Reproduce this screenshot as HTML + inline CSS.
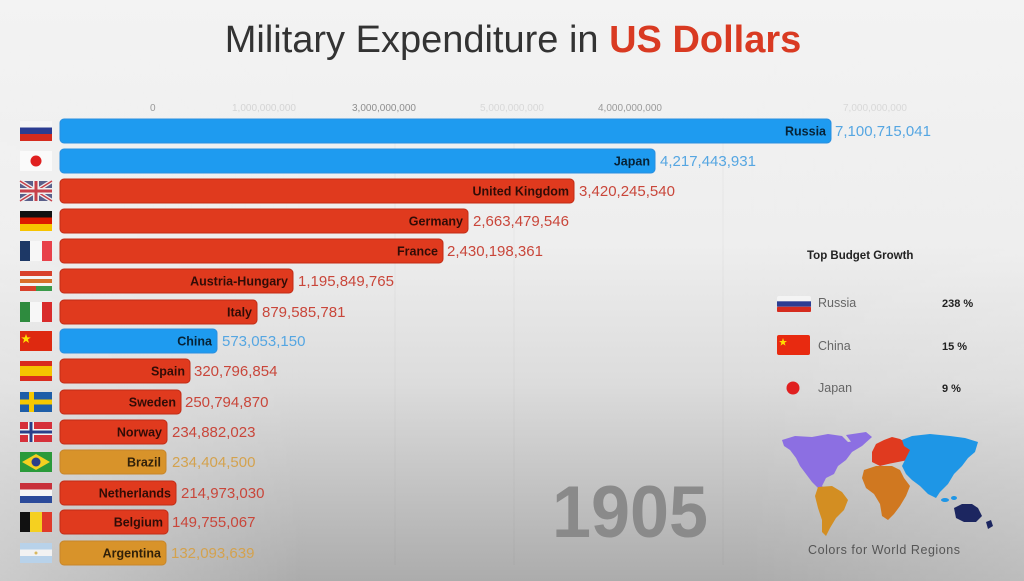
<!DOCTYPE html>
<html>
<head>
<meta charset="utf-8">
<style>
html,body{margin:0;padding:0;width:1024px;height:581px;overflow:hidden;background:#eee;}
svg{display:block;}
text{font-family:"Liberation Sans",sans-serif;}
</style>
</head>
<body>
<svg width="1024" height="581" viewBox="0 0 1024 581" xmlns="http://www.w3.org/2000/svg">
<defs>
<linearGradient id="bgv" x1="0" y1="0" x2="0" y2="1">
<stop offset="0" stop-color="#f3f3f3"/>
<stop offset="0.42" stop-color="#eeeeee"/>
<stop offset="0.66" stop-color="#dcdcdc"/>
<stop offset="1" stop-color="#acacac"/>
</linearGradient>
<linearGradient id="bgh" x1="0" y1="0" x2="1" y2="0">
<stop offset="0" stop-color="#fff" stop-opacity="0.38"/>
<stop offset="0.3" stop-color="#fff" stop-opacity="0"/>
<stop offset="0.72" stop-color="#fff" stop-opacity="0"/>
<stop offset="1" stop-color="#fff" stop-opacity="0.2"/>
</linearGradient>
<linearGradient id="mfade" x1="0" y1="0" x2="0" y2="1">
<stop offset="0" stop-color="#fff" stop-opacity="0"/>
<stop offset="0.45" stop-color="#fff" stop-opacity="0.3"/>
<stop offset="1" stop-color="#fff" stop-opacity="1"/>
</linearGradient>
<mask id="m1" maskUnits="userSpaceOnUse" x="0" y="0" width="1024" height="581">
<rect width="1024" height="581" fill="url(#mfade)"/>
</mask>
</defs>
<rect width="1024" height="581" fill="url(#bgv)"/>
<rect width="1024" height="581" fill="url(#bgh)" mask="url(#m1)"/>

<!-- faint grid -->
<g stroke="#000" stroke-opacity="0.035" stroke-width="1">
<line x1="395" y1="118" x2="395" y2="565"/>
<line x1="514" y1="118" x2="514" y2="565"/>
<line x1="723" y1="118" x2="723" y2="565"/>
</g>

<!-- Title -->
<text x="513" y="52" font-size="38" text-anchor="middle" fill="#333"><tspan>Military Expenditure in </tspan><tspan fill="#d93a22" font-weight="bold">US Dollars</tspan></text>

<!-- axis ticks -->
<g font-size="10" fill="#999">
<text x="150" y="111">0</text>
<text x="232" y="111" fill="#d4d4d4">1,000,000,000</text>
<text x="352" y="111" fill="#8e8e8e">3,000,000,000</text>
<text x="480" y="111" fill="#d8d8d8">5,000,000,000</text>
<text x="598" y="111" fill="#9a9a9a">4,000,000,000</text>
<text x="843" y="111" fill="#d8d8d8">7,000,000,000</text>
</g>

<!-- Bars -->
<g>
<rect x="60" y="119" width="771" height="24" rx="4" fill="#1e9bf0" stroke="#2a8fe0" stroke-width="1"/>
<rect x="60" y="149" width="595" height="24" rx="4" fill="#1e9bf0" stroke="#2a8fe0" stroke-width="1"/>
<rect x="60" y="179" width="514" height="24" rx="4" fill="#e03a1e" stroke="#c22c16" stroke-width="1"/>
<rect x="60" y="209" width="408" height="24" rx="4" fill="#e03a1e" stroke="#c22c16" stroke-width="1"/>
<rect x="60" y="239" width="383" height="24" rx="4" fill="#e03a1e" stroke="#c22c16" stroke-width="1"/>
<rect x="60" y="269" width="233" height="24" rx="4" fill="#e03a1e" stroke="#c22c16" stroke-width="1"/>
<rect x="60" y="300" width="197" height="24" rx="4" fill="#e03a1e" stroke="#c22c16" stroke-width="1"/>
<rect x="60" y="329" width="157" height="24" rx="4" fill="#1e9bf0" stroke="#2a8fe0" stroke-width="1"/>
<rect x="60" y="359" width="130" height="24" rx="4" fill="#e03a1e" stroke="#c22c16" stroke-width="1"/>
<rect x="60" y="390" width="121" height="24" rx="4" fill="#e03a1e" stroke="#c22c16" stroke-width="1"/>
<rect x="60" y="420" width="107" height="24" rx="4" fill="#e03a1e" stroke="#c22c16" stroke-width="1"/>
<rect x="60" y="450" width="106" height="24" rx="4" fill="#d8932a" stroke="#c8862a" stroke-width="1"/>
<rect x="60" y="481" width="116" height="24" rx="4" fill="#e03a1e" stroke="#c22c16" stroke-width="1"/>
<rect x="60" y="510" width="108" height="24" rx="4" fill="#e03a1e" stroke="#c22c16" stroke-width="1"/>
<rect x="60" y="541" width="106" height="24" rx="4" fill="#d8932a" stroke="#c8862a" stroke-width="1"/>
</g>

<!-- labels inside bars -->
<g font-size="12.5" font-weight="bold" fill="#000" fill-opacity="0.78" text-anchor="end">
<text x="826" y="135.5">Russia</text>
<text x="650" y="165.5">Japan</text>
<text x="569" y="195.5">United Kingdom</text>
<text x="463" y="225.5">Germany</text>
<text x="438" y="255.5">France</text>
<text x="288" y="285.5">Austria-Hungary</text>
<text x="252" y="316.5">Italy</text>
<text x="212" y="345.5">China</text>
<text x="185" y="375.5">Spain</text>
<text x="176" y="406.5">Sweden</text>
<text x="162" y="436.5">Norway</text>
<text x="161" y="466.5">Brazil</text>
<text x="171" y="497.5">Netherlands</text>
<text x="163" y="526.5">Belgium</text>
<text x="161" y="557.5">Argentina</text>
</g>

<!-- values -->
<g font-size="15">
<text x="835" y="136" fill="#55a6e2">7,100,715,041</text>
<text x="660" y="166" fill="#55a6e2">4,217,443,931</text>
<text x="579" y="196" fill="#c9463a">3,420,245,540</text>
<text x="473" y="226" fill="#c9463a">2,663,479,546</text>
<text x="447" y="256" fill="#c9463a">2,430,198,361</text>
<text x="298" y="286" fill="#c9463a">1,195,849,765</text>
<text x="262" y="317" fill="#c9463a">879,585,781</text>
<text x="222" y="346" fill="#55a6e2">573,053,150</text>
<text x="194" y="376" fill="#c9463a">320,796,854</text>
<text x="185" y="407" fill="#c9463a">250,794,870</text>
<text x="172" y="437" fill="#c9463a">234,882,023</text>
<text x="172" y="467" fill="#d4a24e">234,404,500</text>
<text x="181" y="498" fill="#c9463a">214,973,030</text>
<text x="172" y="527" fill="#c9463a">149,755,067</text>
<text x="171" y="558" fill="#d4a24e">132,093,639</text>
</g>

<!-- Flags -->
<g>
<rect x="20" y="121" width="32" height="7" fill="#f6f6f6"/>
<rect x="20" y="127.5" width="32" height="7" fill="#2c3d92"/>
<rect x="20" y="134" width="32" height="7" fill="#d52b1e"/>
</g>
<g>
<rect x="20" y="151" width="32" height="20" fill="#fafafa"/>
<circle cx="36" cy="161" r="5.5" fill="#e02020"/>
</g>
<g>
<rect x="20" y="181" width="32" height="20" fill="#5a5f8a"/>
<path d="M20 181 L52 201 M52 181 L20 201" stroke="#eee" stroke-width="4"/>
<path d="M20 181 L52 201 M52 181 L20 201" stroke="#c8404a" stroke-width="1.5"/>
<rect x="33" y="181" width="6" height="20" fill="#eee"/>
<rect x="20" y="188" width="32" height="6" fill="#eee"/>
<rect x="34.5" y="181" width="3" height="20" fill="#c8404a"/>
<rect x="20" y="189.5" width="32" height="3" fill="#c8404a"/>
</g>
<g>
<rect x="20" y="211" width="32" height="7" fill="#111"/>
<rect x="20" y="217.5" width="32" height="7" fill="#dd1a00"/>
<rect x="20" y="224" width="32" height="7" fill="#f7c400"/>
</g>
<g>
<rect x="20" y="241" width="10" height="20" fill="#1d3866"/>
<rect x="30" y="241" width="12" height="20" fill="#f7f7f7"/>
<rect x="42" y="241" width="10" height="20" fill="#e8414a"/>
</g>
<g>
<rect x="20" y="271" width="32" height="20" fill="#f4f4f4"/>
<rect x="20" y="271" width="32" height="5" fill="#d8402a"/>
<rect x="20" y="279" width="32" height="4" fill="#d8702a"/>
<rect x="20" y="286" width="16" height="5" fill="#d8402a"/>
<rect x="36" y="286" width="16" height="5" fill="#3a9a4a"/>
</g>
<g>
<rect x="20" y="302" width="10" height="20" fill="#2e8b3e"/>
<rect x="30" y="302" width="12" height="20" fill="#f7f7f7"/>
<rect x="42" y="302" width="10" height="20" fill="#d92b2b"/>
</g>
<g>
<rect x="20" y="331" width="32" height="20" fill="#de2910"/>
<polygon points="26,334 27.2,337.4 30.8,337.4 27.9,339.5 29,343 26,340.9 23,343 24.1,339.5 21.2,337.4 24.8,337.4" fill="#ffde00"/>
</g>
<g>
<rect x="20" y="361" width="32" height="20" fill="#d92b1e"/>
<rect x="20" y="366" width="32" height="10" fill="#f5c400"/>
</g>
<g>
<rect x="20" y="392" width="32" height="20" fill="#1e5ea8"/>
<rect x="29" y="392" width="5" height="20" fill="#f5c800"/>
<rect x="20" y="399.5" width="32" height="5" fill="#f5c800"/>
</g>
<g>
<rect x="20" y="422" width="32" height="20" fill="#d6303a"/>
<rect x="28" y="422" width="6" height="20" fill="#f4f4f4"/>
<rect x="20" y="429" width="32" height="6" fill="#f4f4f4"/>
<rect x="29.5" y="422" width="3" height="20" fill="#2a3f8a"/>
<rect x="20" y="430.5" width="32" height="3" fill="#2a3f8a"/>
</g>
<g>
<rect x="20" y="452" width="32" height="20" fill="#2a9a3a"/>
<polygon points="36,454 50,462 36,470 22,462" fill="#f4d020"/>
<circle cx="36" cy="462" r="4.5" fill="#2a3f8a"/>
</g>
<g>
<rect x="20" y="483" width="32" height="7" fill="#c8303a"/>
<rect x="20" y="489.5" width="32" height="7" fill="#f6f6f6"/>
<rect x="20" y="496" width="32" height="7" fill="#2b4a9a"/>
</g>
<g>
<rect x="20" y="512" width="10" height="20" fill="#111"/>
<rect x="30" y="512" width="12" height="20" fill="#f5d020"/>
<rect x="42" y="512" width="10" height="20" fill="#e03a2a"/>
</g>
<g>
<rect x="20" y="543" width="32" height="7" fill="#b8d2ea"/>
<rect x="20" y="549.5" width="32" height="7" fill="#f2f2f2"/>
<rect x="20" y="556" width="32" height="7" fill="#b8d2ea"/>
<circle cx="36" cy="553" r="1.5" fill="#d8b860"/>
</g>

<!-- Right panel -->
<text x="807" y="259" font-size="11.5" font-weight="bold" fill="#222">Top Budget Growth</text>
<g>
<rect x="777" y="296" width="34" height="16" rx="2" fill="#f4f4f4"/>
<rect x="777" y="301.3" width="34" height="5.4" fill="#2c3d92"/>
<rect x="777" y="306.7" width="34" height="5.3" rx="1" fill="#d52b1e"/>
<rect x="777" y="335" width="33" height="20" rx="2" fill="#e82a10"/>
<polygon points="783,338 784,341 787,341 784.6,342.8 785.5,345.6 783,344 780.5,345.6 781.4,342.8 779,341 782,341" fill="#ffde00"/>
<circle cx="793" cy="388" r="6.5" fill="#e02020"/>
</g>
<g font-size="12.5" fill="#666">
<text x="818" y="307">Russia</text>
<text x="818" y="350">China</text>
<text x="818" y="392">Japan</text>
</g>
<g font-size="11" font-weight="bold" fill="#222">
<text x="942" y="307">238 %</text>
<text x="942" y="350">15 %</text>
<text x="942" y="392">9 %</text>
</g>

<!-- World map -->
<g>
<polygon fill="#8c6fe2" points="782,440 795,436 812,437 828,434 842,436 848,442 856,441 862,446 852,452 846,460 838,466 834,474 826,478 822,486 828,492 820,490 812,482 806,474 800,466 796,458 790,450 784,446"/>
<polygon fill="#8c6fe2" points="846,435 866,432 872,437 862,446 852,443"/>
<polygon fill="#d38e22" points="818,487 832,486 842,492 848,500 844,510 836,518 830,528 826,536 822,532 822,520 818,508 815,496"/>
<polygon fill="#e03a1f" points="872,452 876,444 884,440 892,437 900,439 908,444 912,452 908,460 898,462 888,464 880,466 872,462"/>
<polygon fill="#d07820" points="864,470 876,466 892,466 900,470 904,478 910,486 906,496 900,506 894,514 888,520 882,516 880,504 874,494 866,488 862,478"/>
<polygon fill="#1e96e6" points="902,440 912,436 930,434 950,436 965,438 978,442 975,452 968,458 962,466 954,474 948,484 940,492 936,498 928,494 920,486 912,480 906,474 902,466 906,458 910,450 904,446"/>
<ellipse cx="945" cy="500" rx="4" ry="2" fill="#1e96e6"/>
<ellipse cx="954" cy="498" rx="3" ry="2" fill="#1e96e6"/>
<polygon fill="#1c2660" points="954,508 962,504 972,504 978,508 982,516 976,522 964,522 956,518"/>
<polygon fill="#1c2660" points="986,522 991,520 993,526 988,529"/>
</g>
<text x="808" y="554" font-size="12.5" fill="#555" textLength="152">Colors for World Regions</text>

<!-- Year -->
<text x="552" y="537" font-size="73" font-weight="bold" fill="#8a8a8a" textLength="156" lengthAdjust="spacingAndGlyphs">1905</text>
</svg>
</body>
</html>
